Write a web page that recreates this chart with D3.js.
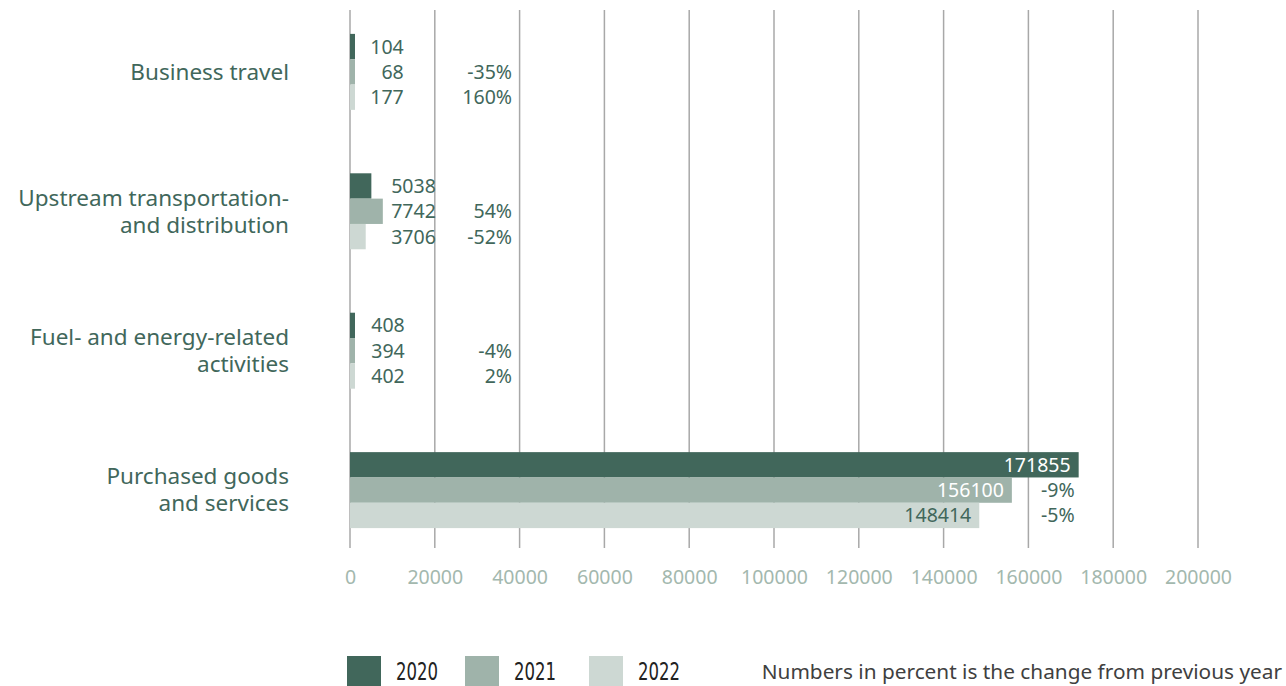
<!DOCTYPE html>
<html>
<head>
<meta charset="utf-8">
<script src="https://cdn.jsdelivr.net/npm/d3@7"></script>
<style>
  body { margin: 0; background: #fff; }
  svg { display: block; }
</style>
</head>
<body>
<svg width="1286" height="686"></svg>
<script>
// data
let categories = ["Business travel", "Upstream transportation and distribution",
  "Fuel- and energy-related activities", "Purchased goods and services"];
let categoryLines = [
  ["Business travel"],
  ["Upstream transportation-", "and distribution"],
  ["Fuel- and energy-related", "activities"],
  ["Purchased goods", "and services"]
];
let years = ["2020", "2021", "2022"];
let values2020 = [104, 5038, 408, 171855];
let values2021 = [68, 7742, 394, 156100];
let values2022 = [177, 3706, 402, 148414];
let change2021 = ["-35%", "54%", "-4%", "-9%"];
let change2022 = ["160%", "-52%", "2%", "-5%"];
let xTicks = [0, 20000, 40000, 60000, 80000, 100000, 120000, 140000, 160000, 180000, 200000];
let noteText = "Numbers in percent is the change from previous year";

function drawChart()
{
  let svg = d3.select("svg"),
    colors = { "2020": "#41675b", "2021": "#9fb3aa", "2022": "#cdd8d3" },
    textColor = "#41675b",
    font = "'Noto Sans', sans-serif";

  let x = d3.scaleLinear().domain([0, 200000]).range([350, 1198]);

  let y = d3.scaleBand().domain(categories).range([12, 550])
    .paddingInner(0.455).paddingOuter(0.157);

  let yy = d3.scaleBand().domain(years).range([0, y.bandwidth()]);

  let series = [values2020, values2021, values2022];
  let changes = [null, change2021, change2022];

  // gridlines
  svg.append("g")
    .selectAll("line")
    .data(xTicks)
    .enter().append("line")
    .attr("x1", d => x(d)).attr("x2", d => x(d))
    .attr("y1", 10).attr("y2", 548)
    .attr("stroke", "#a8a8a8")
    .attr("stroke-width", 1.5);

  // x axis tick labels
  svg.append("g")
    .attr("transform", "translate(0,548)")
    .call(d3.axisBottom(x).tickValues(xTicks).tickFormat(d3.format("d")).tickSize(0).tickPadding(22))
    .call(g => g.select(".domain").remove())
    .selectAll("text")
    .attr("fill", "#a3b8ae")
    .style("font", "19.5px " + font);

  let rows = [];
  categories.forEach((c, i) => {
    let groupMax = d3.max(series, s => s[i]);
    years.forEach((yr, j) => {
      rows.push({
        cat: c, year: yr, value: series[j][i],
        change: changes[j] ? changes[j][i] : null,
        groupMax: groupMax
      });
    });
  });

  let bar = svg.append("g").selectAll("g")
    .data(rows)
    .enter().append("g")
    .attr("transform", d => "translate(0," + (y(d.cat) + yy(d.year)) + ")");

  // tiny values keep a small visible stub, like the reference
  bar.append("rect")
    .attr("x", x(0))
    .attr("y", 0)
    .attr("width", d => Math.max(x(d.value) - x(0), 5))
    .attr("height", yy.bandwidth())
    .attr("fill", d => colors[d.year]);

  // value labels
  bar.append("text")
    .attr("x", d => d.value > 60000 ? x(d.value) - 8 : x(d.groupMax) + 53)
    .attr("y", yy.bandwidth() / 2)
    .attr("dy", "0.36em")
    .attr("text-anchor", "end")
    .attr("fill", d => (d.value > 60000 && d.year !== "2022") ? "#fff" : textColor)
    .style("font", "19.5px " + font)
    .text(d => d.value);

  // percent change labels
  bar.filter(d => d.change)
    .append("text")
    .attr("x", d => Math.max(x(d.groupMax) - 4, 512))
    .attr("y", yy.bandwidth() / 2)
    .attr("dy", "0.36em")
    .attr("text-anchor", "end")
    .attr("fill", textColor)
    .style("font", "19.5px " + font)
    .text(d => d.change);

  // category labels, one text per line
  categories.forEach((d, i) => {
    let lines = categoryLines[i],
      cy = y(d) + y.bandwidth() / 2,
      lh = 27,
      top = cy - (lines.length - 1) * lh / 2;
    svg.append("g").selectAll("text")
      .data(lines)
      .enter().append("text")
      .attr("x", 289)
      .attr("y", (l, k) => top + k * lh)
      .attr("dy", "0.35em")
      .attr("text-anchor", "end")
      .attr("fill", textColor)
      .style("font", "22.5px " + font)
      .text(l => l);
  });

  // legend
  let legendX = [347, 465, 589];
  let legend = svg.append("g").selectAll("g")
    .data(years)
    .enter().append("g")
    .attr("transform", (d, i) => "translate(" + legendX[i] + ",656)");

  legend.append("rect")
    .attr("width", 34).attr("height", 30)
    .attr("fill", d => colors[d]);

  legend.append("text")
    .attr("x", 49).attr("y", 24)
    .attr("fill", "#222")
    .attr("textLength", 42)
    .attr("lengthAdjust", "spacingAndGlyphs")
    .style("font", "24px 'DejaVu Sans Condensed', sans-serif")
    .text(d => d);

  svg.append("text")
    .attr("x", 1282).attr("y", 679)
    .attr("text-anchor", "end")
    .attr("fill", "#404040")
    .style("font", "20.8px " + font)
    .text(noteText);
}

drawChart();
</script>
</body>
</html>
